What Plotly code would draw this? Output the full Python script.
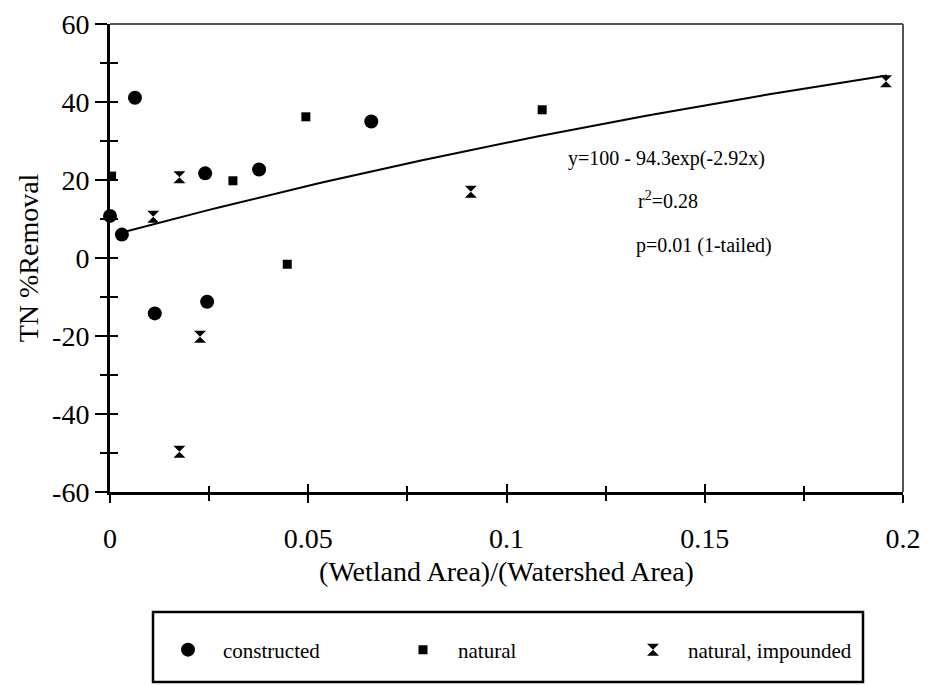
import numpy as np
import plotly.graph_objects as go

# ---- data ----
constructed_x = [0.0, 0.003, 0.0063, 0.0113, 0.024, 0.0245, 0.0376, 0.0659]
constructed_y = [10.8, 6.0, 41.1, -14.2, 21.7, -11.2, 22.7, 35.0]

natural_x = [0.0004, 0.031, 0.0447, 0.0494, 0.109]
natural_y = [21.0, 19.8, -1.6, 36.2, 38.0]

impounded_x = [0.0109, 0.0175, 0.0227, 0.0175, 0.091, 0.1957]
impounded_y = [10.6, 20.7, -20.2, -49.7, 17.0, 45.3]

# fitted model shown on the chart: y = 100 - 94.3 exp(-2.92 x)
fit_a, fit_b, fit_k = 100.0, 94.3, 2.92
fit_x_start, fit_x_end = 0.003, 0.196

x_tick_vals = [0, 0.05, 0.1, 0.15, 0.2]
x_tick_text = ["0", "0.05", "0.1", "0.15", "0.2"]
y_tick_vals = [-60, -40, -20, 0, 20, 40, 60]
y_tick_text = ["-60", "-40", "-20", "0", "20", "40", "60"]

fit_x = np.linspace(fit_x_start, fit_x_end, 80)
fit_y = fit_a - fit_b * np.exp(-fit_k * fit_x)

SERIF = "Liberation Serif, Times New Roman, Times, serif"

fig = go.Figure()

fig.add_trace(go.Scatter(x=fit_x, y=fit_y, mode="lines",
                         line=dict(color="black", width=2),
                         showlegend=False, hoverinfo="skip"))

fig.add_trace(go.Scatter(x=constructed_x, y=constructed_y, mode="markers",
                         name="constructed", legend="legend",
                         marker=dict(symbol="circle", size=14, color="black"),
                         cliponaxis=False))
fig.add_trace(go.Scatter(x=natural_x, y=natural_y, mode="markers",
                         name="natural", legend="legend2",
                         marker=dict(symbol="square", size=9, color="black"),
                         cliponaxis=False))
fig.add_trace(go.Scatter(x=impounded_x, y=impounded_y, mode="markers",
                         name="natural, impounded", legend="legend3",
                         marker=dict(symbol="hourglass", size=12, color="black"),
                         cliponaxis=False))

# dummy trace for the overlay axes that draw the inside half of the ticks
fig.add_trace(go.Scatter(x=[0.1], y=[0], xaxis="x2", yaxis="y2", mode="markers",
                         marker=dict(opacity=0), showlegend=False, hoverinfo="skip"))

W, H = 927, 685
ml, mt = 110, 24
mr, mb = W - 903, H - 492
pw, ph = W - ml - mr, H - mt - mb


def px_to_paper_x(px):
    return (px - ml) / pw


def px_to_paper_y(py):
    return (H - mb - py) / ph


tick_font = dict(family=SERIF, size=28, color="black")
leg_font = dict(family=SERIF, size=21, color="black")
title_font = dict(family=SERIF, size=28, color="black")

fig.update_layout(
    width=W, height=H,
    margin=dict(l=ml, r=mr, t=mt, b=mb, autoexpand=False),
    paper_bgcolor="white", plot_bgcolor="white",
    font=dict(family=SERIF, color="black"),
    xaxis=dict(range=[0, 0.2], tickvals=x_tick_vals, ticktext=x_tick_text,
               showgrid=False, zeroline=False, automargin=False,
               ticklabeloverflow="allow",
               showline=True, linecolor="black", linewidth=3,
               ticks="outside", ticklen=8, tickwidth=1.5, tickcolor="black",
               minor=dict(tickvals=[0.025, 0.075, 0.125, 0.175], ticks="outside",
                          ticklen=6, tickwidth=1.5, tickcolor="black"),
               tickfont=tick_font, ticklabelstandoff=11,
               title=dict(text="(Wetland Area)/(Watershed Area)",
                          font=title_font, standoff=9)),
    yaxis=dict(range=[-60, 60], tickvals=y_tick_vals, ticktext=y_tick_text,
               showgrid=False, zeroline=False, automargin=False,
               ticklabeloverflow="allow",
               showline=True, linecolor="black", linewidth=3,
               ticks="outside", ticklen=12, tickwidth=1.5, tickcolor="black",
               minor=dict(tickvals=[-50, -30, -10, 10, 30, 50], ticks="outside",
                          ticklen=7, tickwidth=1.5, tickcolor="black"),
               tickfont=tick_font, ticklabelstandoff=0,
               title=dict(text="TN %Removal", font=title_font, standoff=6)),
    xaxis2=dict(range=[0, 0.2], overlaying="x", anchor="y2", side="bottom",
                showticklabels=False, showgrid=False, zeroline=False, showline=False,
                automargin=False,
                tickvals=x_tick_vals, ticks="inside", ticklen=8, tickwidth=1.5,
                tickcolor="black",
                minor=dict(tickvals=[0.025, 0.075, 0.125, 0.175], ticks="inside",
                           ticklen=6, tickwidth=1.5, tickcolor="black")),
    yaxis2=dict(range=[-60, 60], overlaying="y", anchor="x2", side="left",
                showticklabels=False, showgrid=False, zeroline=False, showline=False,
                automargin=False,
                tickvals=y_tick_vals, ticks="inside", ticklen=8, tickwidth=1.5,
                tickcolor="black",
                minor=dict(tickvals=[-50, -30, -10, 10, 30, 50], ticks="inside",
                           ticklen=8, tickwidth=1.5, tickcolor="black")),
    legend=dict(x=px_to_paper_x(153), y=px_to_paper_y(650), xanchor="left", yanchor="middle",
                bgcolor="rgba(0,0,0,0)", font=leg_font, itemwidth=60),
    legend2=dict(x=px_to_paper_x(388), y=px_to_paper_y(650), xanchor="left", yanchor="middle",
                 bgcolor="rgba(0,0,0,0)", font=leg_font, itemwidth=60),
    legend3=dict(x=px_to_paper_x(618), y=px_to_paper_y(650), xanchor="left", yanchor="middle",
                 bgcolor="rgba(0,0,0,0)", font=leg_font, itemwidth=60),
    showlegend=True,
)

# plot frame (top/right) and legend box
fig.add_shape(type="line", xref="paper", yref="paper", x0=0, x1=1, y0=1, y1=1,
              line=dict(color="#555555", width=2))
fig.add_shape(type="line", xref="paper", yref="paper", x0=1, x1=1, y0=0, y1=1,
              line=dict(color="#555555", width=2))
fig.add_shape(type="rect", xref="paper", yref="paper",
              x0=px_to_paper_x(153), x1=px_to_paper_x(863),
              y0=px_to_paper_y(682), y1=px_to_paper_y(612),
              line=dict(color="black", width=2.5))

ann_font = dict(family=SERIF, size=20, color="black")
fig.add_annotation(x=0.115, y=px_to_paper_y(158), xref="x", yref="paper",
                   text="y=100 - 94.3exp(-2.92x)", showarrow=False,
                   xanchor="left", yanchor="middle", font=ann_font)
fig.add_annotation(x=0.1327, y=px_to_paper_y(200), xref="x", yref="paper",
                   text="r<sup>2</sup>=0.28", showarrow=False,
                   xanchor="left", yanchor="middle", font=ann_font)
fig.add_annotation(x=0.1322, y=px_to_paper_y(245), xref="x", yref="paper",
                   text="p=0.01 (1-tailed)", showarrow=False,
                   xanchor="left", yanchor="middle", font=ann_font)

# remove the default 8px page margin so the 927x685 figure fills the window exactly
fig.write_html("out.html",
               config={"displayModeBar": False},
               post_script="document.body.style.margin='0';document.body.style.overflow='hidden';")
